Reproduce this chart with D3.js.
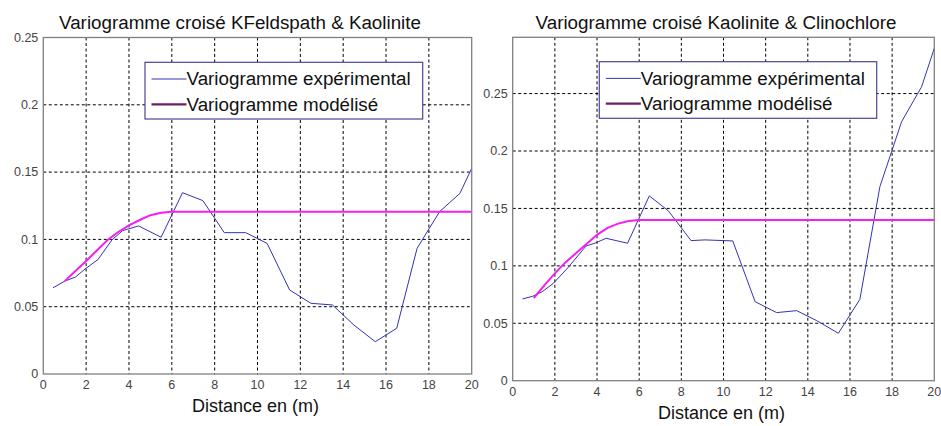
<!DOCTYPE html>
<html>
<head>
<meta charset="utf-8">
<script src="https://cdn.jsdelivr.net/npm/d3@7"></script>
<style>
  html, body { margin: 0; padding: 0; background: #fff; }
  svg { display: block; font-family: "Liberation Sans", Arial, sans-serif; }
</style>
</head>
<body>
<svg id="chart" width="941" height="426"></svg>
<script>
// données
const xTicks = [0, 2, 4, 6, 8, 10, 12, 14, 16, 18, 20];
const yTicks = [0, 0.05, 0.1, 0.15, 0.2, 0.25];
const legendLabels = ["Variogramme expérimental", "Variogramme modélisé"];
const titles = ["Variogramme croisé KFeldspath & Kaolinite", "Variogramme croisé Kaolinite & Clinochlore"];
const xLabel = "Distance en (m)";

const distKF = [0.45, 1.0, 1.5, 1.95, 2.55, 3.2, 3.7, 4.45, 5.5, 6.5, 7.45, 8.45, 9.45, 10.45, 11.5, 12.5, 13.5, 14.5, 15.5, 16.5, 17.45, 18.5, 19.45, 20];
const expKF = [0.064, 0.069, 0.072, 0.078, 0.085, 0.0995, 0.1065, 0.110, 0.1016, 0.1347, 0.1288, 0.105, 0.105, 0.097, 0.0624, 0.0525, 0.0513, 0.0364, 0.024, 0.034, 0.0934, 0.1206, 0.1342, 0.1528];

const distKC = [0.46, 0.95, 1.4, 1.93, 2.64, 3.48, 3.9, 4.43, 5.45, 6.48, 7.38, 8.46, 9.12, 10.44, 11.5, 12.52, 13.47, 14.42, 15.45, 16.47, 17.42, 18.45, 19.4, 20];
const expKC = [0.0712, 0.0735, 0.0775, 0.0848, 0.0988, 0.1173, 0.1197, 0.124, 0.1197, 0.1609, 0.148, 0.122, 0.1226, 0.1217, 0.0688, 0.0593, 0.061, 0.0523, 0.0413, 0.0709, 0.169, 0.2256, 0.256, 0.2895];

const distModel = [1, 1.5, 2, 2.5, 3, 3.5, 4, 4.5, 5, 5.5, 6, 20];
const modKF = [0.069, 0.0765, 0.084, 0.0917, 0.0995, 0.1055, 0.1104, 0.1144, 0.118, 0.1198, 0.1206, 0.1206];
const modKC = [0.072, 0.083, 0.0935, 0.103, 0.111, 0.119, 0.127, 0.133, 0.1368, 0.139, 0.14, 0.14];

const svg = d3.select("#chart");

const panels = [
    { left: 43.3, right: 471.7, top: 37.5, bottom: 374, yMax: 0.25, titleX: 240,
      legend: { x: 145, y: 62.3, w: 277.7, h: 56.7 }, dist: distKF, exp: expKF, mod: modKF, title: titles[0] },
    { left: 512.7, right: 934.3, top: 37.3, bottom: 380.7, yMax: 0.299, titleX: 716,
      legend: { x: 599.3, y: 61.7, w: 277.4, h: 56.6 }, dist: distKC, exp: expKC, mod: modKC, title: titles[1] }
];

function drawPanel (p) {
    const x = d3.scaleLinear().domain([0, 20]).range([p.left, p.right]);
    const y = d3.scaleLinear().domain([0, p.yMax]).range([p.bottom, p.top]);
    const g = svg.append("g");

    // grille pointillée
    g.selectAll(".vgrid")
        .data(xTicks.slice(1, -1))
        .enter()
        .append("line")
        .attr("x1", d => x(d)).attr("x2", d => x(d))
        .attr("y1", p.top).attr("y2", p.bottom)
        .attr("stroke", "#000").attr("stroke-width", 1)
        .attr("stroke-dasharray", "3,2.5");
    g.selectAll(".hgrid")
        .data(yTicks.filter(d => d > 0 && y(d) > p.top + 1))
        .enter()
        .append("line")
        .attr("x1", p.left).attr("x2", p.right)
        .attr("y1", d => y(d)).attr("y2", d => y(d))
        .attr("stroke", "#000").attr("stroke-width", 1)
        .attr("stroke-dasharray", "3,2.5");

    // courbes
    const line = d3.line().x(d => x(d[0])).y(d => y(d[1]));
    g.append("path")
        .datum(p.dist.map((d, i) => [d, p.exp[i]]))
        .attr("d", line)
        .attr("fill", "none")
        .attr("stroke", "#3333b4")
        .attr("stroke-width", 1);
    g.append("path")
        .datum(distModel.map((d, i) => [d, p.mod[i]]))
        .attr("d", line)
        .attr("fill", "none")
        .attr("stroke", "#f51ef5")
        .attr("stroke-width", 2);

    // cadre + graduations
    g.append("rect")
        .attr("x", p.left).attr("y", p.top)
        .attr("width", p.right - p.left).attr("height", p.bottom - p.top)
        .attr("fill", "none").attr("stroke", "#808080").attr("stroke-width", 1.3);

    g.selectAll(".xt")
        .data(xTicks)
        .enter()
        .append("text")
        .attr("x", d => x(d))
        .attr("y", p.bottom + 15)
        .attr("text-anchor", "middle")
        .attr("font-size", "12.5px")
        .attr("fill", "#444")
        .text(d => d);
    g.selectAll(".yt")
        .data(yTicks)
        .enter()
        .append("text")
        .attr("x", p.left - 5)
        .attr("y", d => y(d))
        .attr("dy", "0.35em")
        .attr("text-anchor", "end")
        .attr("font-size", "12.5px")
        .attr("fill", "#444")
        .text(d => String(+d.toFixed(2)));

    g.append("text")
        .attr("x", p.titleX).attr("y", 28.5)
        .attr("text-anchor", "middle")
        .attr("font-size", "18.8px")
        .attr("fill", "#111")
        .text(p.title);
    g.append("text")
        .attr("x", (p.left + p.right) / 2 - 2).attr("y", p.bottom + 38)
        .attr("text-anchor", "middle")
        .attr("font-size", "18px")
        .attr("fill", "#111")
        .text(xLabel);

    // légende
    const lg = g.append("g").attr("transform", `translate(${p.legend.x},${p.legend.y})`);
    lg.append("rect")
        .attr("width", p.legend.w).attr("height", p.legend.h)
        .attr("fill", "#fff").attr("stroke", "#4b4596").attr("stroke-width", 1.2);
    const rows = [{ c: "#3535b0", w: 1, dy: 16.7 }, { c: "#6e1d68", w: 2.2, dy: 42 }];
    rows.forEach((r, i) => {
        lg.append("line")
            .attr("x1", 6.5).attr("x2", 41.5)
            .attr("y1", r.dy).attr("y2", r.dy)
            .attr("stroke", r.c).attr("stroke-width", r.w);
        lg.append("text")
            .attr("x", 41.5).attr("y", r.dy + 6.5)
            .attr("font-size", "18.8px")
            .attr("fill", "#111")
            .text(legendLabels[i]);
    });
}

panels.forEach(drawPanel);
</script>
</body>
</html>
